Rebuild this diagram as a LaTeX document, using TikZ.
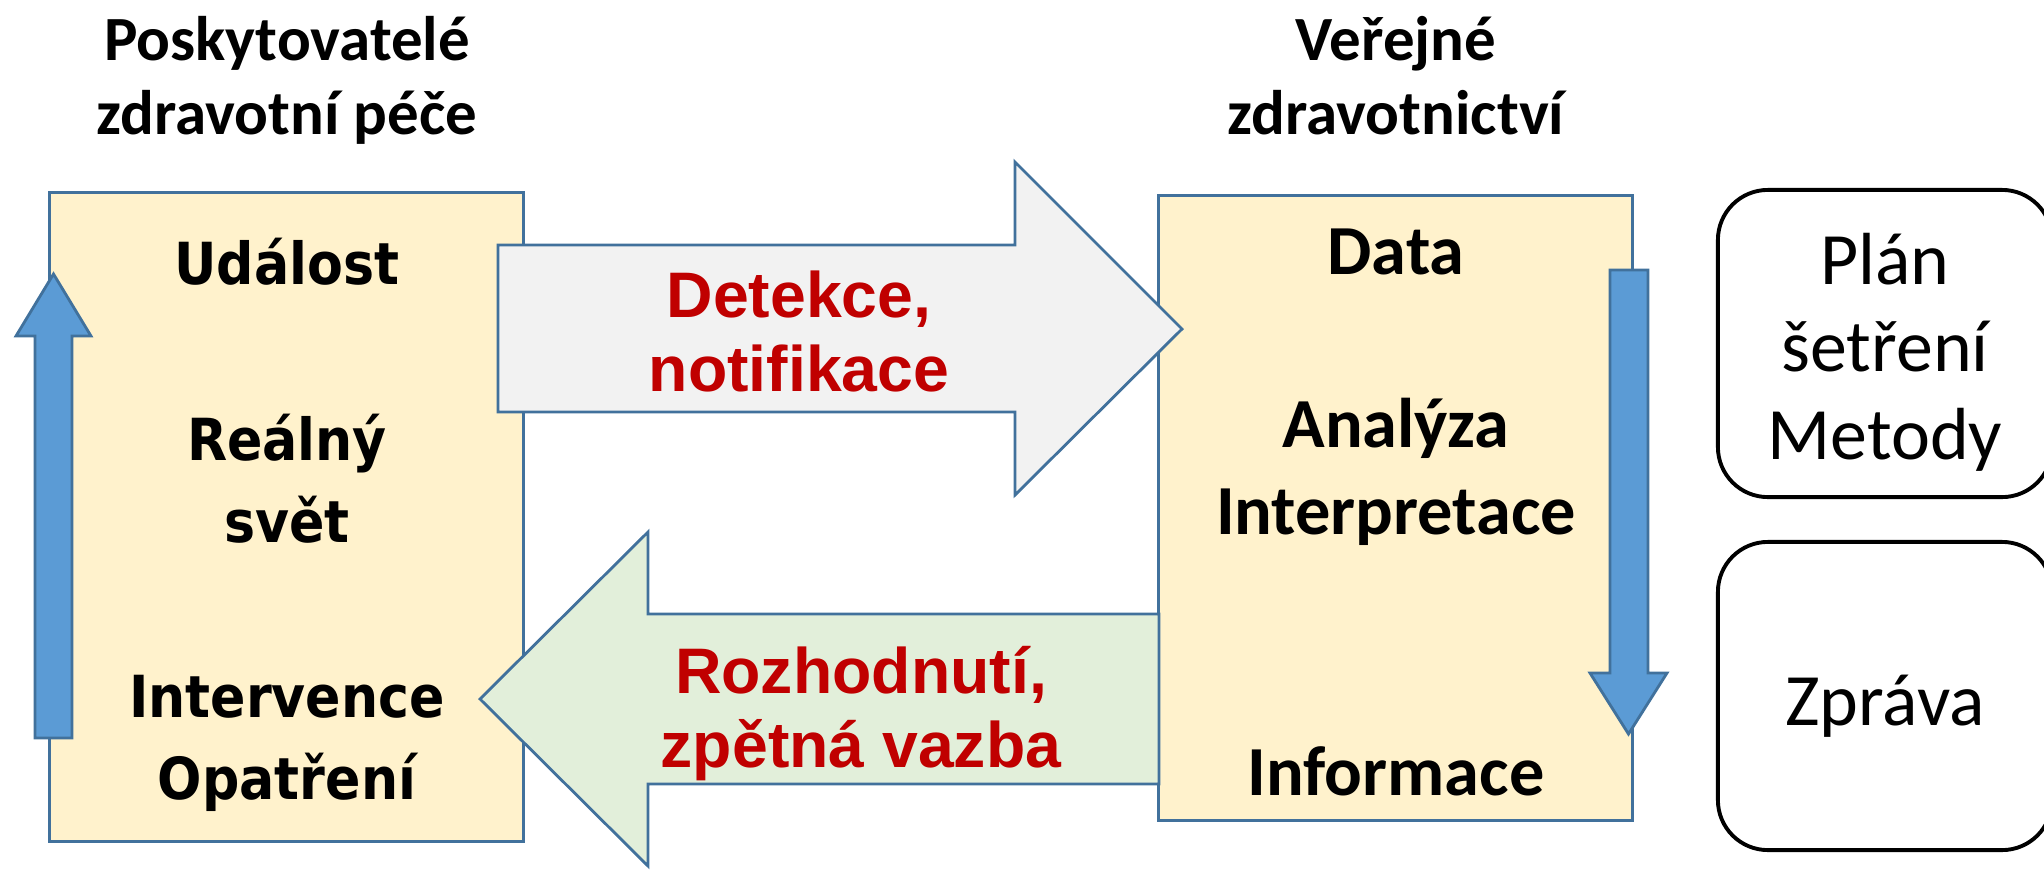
\documentclass[tikz,border=0pt]{standalone}
\usepackage{fontspec}
\setmainfont{Carlito}
\newfontfamily\boxfont{DejaVu Sans Condensed}
\newfontfamily\arrowfont{Liberation Sans}
\usetikzlibrary{positioning}

\definecolor{boxfill}{HTML}{FFF2CC}
\definecolor{boxline}{HTML}{41719C}
\definecolor{greyfill}{HTML}{F2F2F2}
\definecolor{greenfill}{HTML}{E2EFDA}
\definecolor{bluefill}{HTML}{5B9BD5}
\definecolor{darkred}{HTML}{C00000}

\begin{document}
\begin{tikzpicture}[
  x=0.01cm,y=-0.01cm,
  panel/.style={draw=boxline,line width=0.8pt,fill=boxfill,minimum width=4.73cm},
  flow/.style={draw=boxline,line width=0.8pt},
  roundbox/.style={draw=black,line width=1.1pt,rounded corners=0.5cm,fill=white,minimum width=3.34cm},
  head/.style={anchor=base,align=center,font=\fontsize{17.9pt}{21pt}\selectfont\bfseries},
  world/.style={anchor=base,align=center,font=\fontsize{16.5pt}{23.3pt}\selectfont\boxfont\bfseries},
  health/.style={anchor=base,align=center,font=\fontsize{20pt}{24.7pt}\selectfont\bfseries},
  flowtext/.style={anchor=base,align=center,text=darkred,font=\fontsize{18.3pt}{21pt}\selectfont\arrowfont\bfseries},
  output/.style={anchor=base,align=center,font=\fontsize{21pt}{24.8pt}\selectfont}
]
\useasboundingbox (0,0) rectangle (2044,869);

% the two columns
\node[panel,minimum height=6.48cm] (prov) at (286.5,517) {};
\node[panel,minimum height=6.24cm] (pub) at (1395.5,508) {};

% (multi-line texts sit on the baseline of their last line)
\node[head] (provtitle) at (287,134) {Poskytovatelé\\zdravotní péče};
\node[head] (pubtitle) at (1396,134) {Veřejné\\zdravotnictví};

% block arrows between the columns
\draw[flow,fill=greyfill] (498,245) -- (1015,245) -- (1015,162) -- (1182,329)
  -- (1015,495) -- (1015,412) -- (498,412) -- cycle;
\draw[flow,fill=greenfill] (1159,614) -- (648,614) -- (648,532) -- (480,699)
  -- (648,866) -- (648,784) -- (1159,784) -- cycle;

% vertical arrows along the columns
\draw[flow,fill=bluefill] (35,738) -- (35,336) -- (16,336) -- (53.5,274)
  -- (91,336) -- (72,336) -- (72,738) -- cycle;
\draw[flow,fill=bluefill] (1610,270) -- (1648,270) -- (1648,673) -- (1667,673)
  -- (1628.5,734) -- (1590,673) -- (1610,673) -- cycle;

\node[world] (event) at (287,284) {Událost};
\node[world] (real) at (287,542) {Reálný\\svět};
\node[world] (action) at (287,799) {Intervence\\Opatření};

\node[health] (data) at (1396,274) {Data};
\node[health] (analysis) at (1396,534) {Analýza\\Interpretace};
\node[health] (info) at (1396,795) {Informace};

\node[flowtext] (detect) at (799,391) {Detekce,\\notifikace};
\node[flowtext] (decide) at (861,767) {Rozhodnutí,\\zpětná vazba};

% outputs on the right
\node[roundbox,minimum height=3.07cm] (plan) at (1885,343.5) {};
\node[roundbox,minimum height=3.08cm] (report) at (1885,696) {};
\node[output] (plantext) at (1885,459) {Plán\\šetření\\Metody};
\node[output] (reporttext) at (1885,725) {Zpráva};
\end{tikzpicture}
\end{document}
